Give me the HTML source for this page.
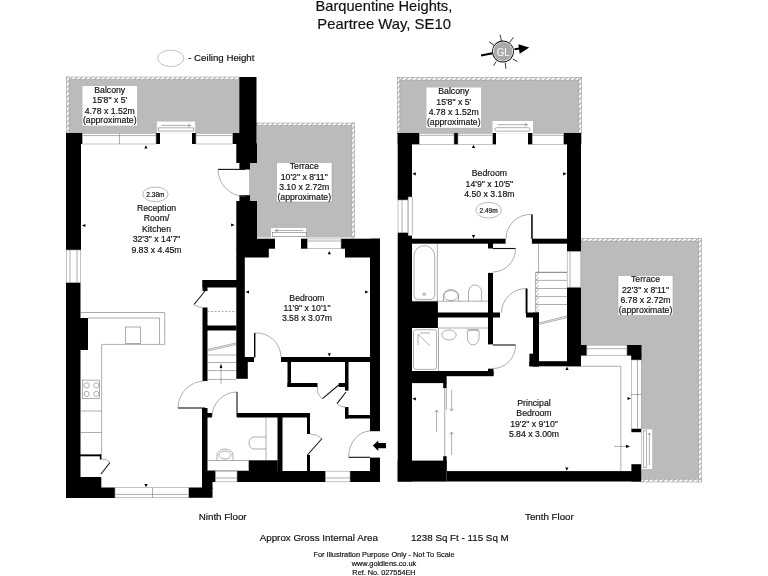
<!DOCTYPE html>
<html><head><meta charset="utf-8"><style>
html,body{margin:0;padding:0;background:#fff;width:768px;height:576px;overflow:hidden;}
svg{display:block;filter:grayscale(1);}
text{font-family:"Liberation Sans",sans-serif;fill:#111;stroke:#111;stroke-width:0.18px;}
.lb{font-size:8.7px;text-anchor:middle;}
.w{fill:#fff;stroke:#999;stroke-width:0.6;}
.ln{stroke:#777;stroke-width:0.6;fill:none;}
.dk{stroke:#111;stroke-width:1.1;fill:none;}
.g{fill:#bbb;}
.h{fill:url(#hp);stroke:#999;stroke-width:0.5;}
</style></head><body>
<svg width="768" height="576" viewBox="0 0 768 576">
<defs>
<pattern id="hp" width="3.5" height="3.5" patternUnits="userSpaceOnUse" patternTransform="rotate(45)">
<rect width="3.5" height="3.5" fill="#fff"/><rect width="1.1" height="3.5" fill="#aaa"/>
</pattern>
</defs>

<!-- ============ TITLE / LEGEND ============ -->
<text x="383.9" y="11" font-size="14.6" text-anchor="middle" textLength="136.7" lengthAdjust="spacingAndGlyphs">Barquentine Heights,</text>
<text x="384.1" y="29.1" font-size="14.6" text-anchor="middle" textLength="133.6" lengthAdjust="spacingAndGlyphs">Peartree Way, SE10</text>
<ellipse cx="170.7" cy="58.3" rx="13.1" ry="8.2" fill="none" stroke="#999" stroke-width="0.6"/>
<text x="188.2" y="61.2" font-size="9.7">- Ceiling Height</text>

<!-- compass -->
<g>
<path d="M481 55.4 L492.5 53.3" stroke="#000" stroke-width="2" fill="none"/>
<path d="M514.5 49.3 L521 48.3" stroke="#000" stroke-width="2" fill="none"/>
<path d="M518.3 44.2 L529.2 47.4 L519.7 53.7 Z" fill="#000"/>
<g stroke="#333" stroke-width="1">
<path d="M500 34.7 L501.5 41"/><path d="M513.5 37.3 L509.5 42.5"/><path d="M489.1 41.7 L494 45.3"/>
<path d="M493.5 65.7 L496.3 61.5"/><path d="M505.9 68.7 L505.2 62.5"/><path d="M517.5 61.7 L513 59"/>
</g>
<circle cx="503" cy="51.5" r="10.9" fill="#000"/>
<circle cx="503" cy="51.5" r="10.1" fill="#fff"/>
<circle cx="503" cy="51.5" r="9.4" fill="#a9a9a9"/>
<text x="503.2" y="55.5" font-size="11" textLength="13" lengthAdjust="spacingAndGlyphs" text-anchor="middle" style="fill:#fff;stroke:none">GL</text>
</g>

<!-- ============ LEFT PLAN (NINTH FLOOR) ============ -->
<!-- balcony -->
<rect class="g" x="66.5" y="77" width="172.7" height="56"/>
<rect class="h" x="66.5" y="77" width="172.7" height="2.6"/>
<rect class="h" x="66.5" y="77" width="2.6" height="56"/>
<rect x="82.5" y="86" width="54.5" height="39.6" fill="#fff"/>
<text class="lb" x="109.75" y="93.1">Balcony</text>
<text class="lb" x="109.75" y="103.3">15'8" x 5'</text>
<text class="lb" x="109.75" y="113.6">4.78 x 1.52m</text>
<text class="lb" x="109.75" y="123.3">(approximate)</text>
<!-- sliding door box -->
<rect x="157" y="121.6" width="38" height="11.5" fill="#fff" stroke="#ddd" stroke-width="0.5"/>
<path class="ln" d="M161.3 125.4 H190.6 M188 124 L190.6 125.4 L188 126.8"/>
<rect class="ln" x="158.2" y="127.9" width="35.5" height="3.1"/>

<!-- terrace -->
<rect class="g" x="256.5" y="123" width="98" height="114.5"/>
<rect class="g" x="249" y="163" width="10" height="38"/>
<rect class="h" x="256.5" y="123" width="98" height="2.6"/>
<rect class="h" x="351.9" y="123" width="2.6" height="114.5"/>
<rect x="276.5" y="162.5" width="55.5" height="39.5" fill="#fff" stroke="#999" stroke-width="0.5"/>
<text class="lb" x="304.25" y="169.3">Terrace</text>
<text class="lb" x="304.25" y="179.5">10'2" x 8'11"</text>
<text class="lb" x="304.25" y="189.8">3.10 x 2.72m</text>
<text class="lb" x="304.25" y="199.6">(approximate)</text>
<rect x="271" y="228" width="35" height="10" fill="#fff"/>
<path class="ln" d="M303 230.5 H275 M278 229 L275 230.5 L278 232"/>
<rect class="ln" x="272.6" y="232.4" width="34" height="3.9"/>

<!-- walls -->
<g fill="#000">
<rect x="66" y="133" width="15" height="117"/>
<rect x="66" y="133" width="16.5" height="11"/>
<rect x="66" y="282.5" width="14.5" height="215.5"/>
<rect x="80" y="318" width="8" height="32"/>
<rect x="156" y="133" width="4" height="11"/>
<rect x="192" y="133" width="4" height="11"/>
<rect x="232.5" y="133" width="24" height="11"/>
<rect x="239.3" y="77" width="17.2" height="56.5"/>
<rect x="236.3" y="143.5" width="20.7" height="19.5"/>
<rect x="239.4" y="162.5" width="10.6" height="7"/>
<rect x="239.4" y="195.2" width="10.6" height="6.3"/>
<rect x="236.3" y="201" width="20.7" height="38"/>
<!-- bedroom -->
<rect x="236.3" y="238.7" width="38.7" height="10"/>
<rect x="236.3" y="248" width="32.5" height="9.5"/>
<rect x="301" y="238.7" width="6.5" height="10"/>
<rect x="341" y="238.7" width="39" height="10"/>
<rect x="345" y="248" width="35" height="9.5"/>
<rect x="370" y="238.7" width="10" height="192.5"/>
<rect x="370" y="457.6" width="10" height="24.4"/>
<rect x="281" y="357" width="99" height="5"/>
<rect x="244" y="357" width="10" height="5"/>
<rect x="236.3" y="257" width="8.5" height="105"/>
<rect x="236.3" y="361.5" width="11.5" height="17.3"/>
<rect x="254" y="333" width="1.4" height="24.5"/>
<!-- cupboard/stair -->
<rect x="202.5" y="280" width="34.5" height="7.5"/>
<rect x="202.5" y="280" width="5" height="11"/>
<rect x="202.5" y="307.5" width="5" height="73.5"/>
<rect x="207" y="325.5" width="29.5" height="5"/>
<!-- right cupboards -->
<rect x="287.5" y="362" width="3.5" height="25"/>
<rect x="287.5" y="383" width="30" height="4"/>
<rect x="338.7" y="383" width="6.5" height="4"/>
<rect x="345" y="362" width="3.5" height="28.6"/>
<rect x="345" y="407" width="3.5" height="11.5"/>
<rect x="345" y="415" width="25" height="3.5"/>
<!-- hall / wc -->
<rect x="237" y="413" width="73" height="4.5"/>
<rect x="307" y="413" width="3" height="21"/>
<rect x="307" y="455" width="3" height="16"/>
<rect x="277.5" y="413" width="5" height="58"/>
<rect x="202" y="408" width="5.5" height="80"/>
<rect x="207" y="413" width="5" height="4.5"/>
<rect x="248.7" y="460.3" width="29" height="11"/>
<rect x="202" y="470.6" width="13.6" height="11.4"/>
<rect x="237" y="471" width="88.6" height="11"/>
<rect x="350" y="471" width="30" height="11"/>
<rect x="188.7" y="487.5" width="23.8" height="10.3"/>
<rect x="202" y="481" width="10.5" height="8"/>
<!-- kitchen bottom left -->
<rect x="80" y="477" width="21.3" height="21"/>
<rect x="101" y="487.5" width="14" height="10.5"/>
<rect x="80" y="454.4" width="21" height="1.9"/>
<rect x="99.8" y="454.4" width="1.7" height="5"/>
</g>

<!-- windows left plan -->
<g>
<rect class="w" x="82.5" y="133.3" width="73.5" height="10.7"/>
<path class="ln" d="M82.5 135.6 H156 M119.4 133.3 V144"/>
<rect class="w" x="196" y="133.3" width="36.5" height="10.7"/>
<path class="ln" d="M196 135.6 H232.5"/>
<rect class="w" x="66.3" y="250" width="14.4" height="32.5"/>
<path class="ln" d="M70 250 V282.5 M77 250 V282.5"/>
<rect class="w" x="307.5" y="238.9" width="33.5" height="9.8"/>
<path class="ln" d="M307.5 241 H341"/>
<rect class="w" x="115" y="487.7" width="73.7" height="10"/>
<path class="ln" d="M115 494.4 H188.7 M152.5 487.7 V497.7"/>
<rect class="w" x="215.6" y="471.2" width="21.4" height="10.6"/>
<path class="ln" d="M215.6 478 H237"/>
<rect class="w" x="325.6" y="471.2" width="24.4" height="10.6"/>
<path class="ln" d="M325.6 478 H350"/>
</g>

<!-- doors left plan -->
<g>
<path class="dk" d="M218 169.4 H245"/><path class="ln" d="M218 169.4 A27 27 0 0 0 245 196.4"/>
<path class="ln" d="M255 333 A24.5 24.5 0 0 1 281 357"/>
<path class="dk" d="M194 304.5 L205 291"/><path class="ln" d="M194 304.5 A13 13 0 0 0 202.5 307.5"/>
<path class="dk" d="M322.5 398.7 L338.7 385"/><path class="ln" d="M317.5 387 A12 12 0 0 0 322.5 398.7"/>
<path class="dk" d="M337 403.7 L346 392"/><path class="ln" d="M337 403.7 A11 11 0 0 0 345 407"/>
<path class="dk" d="M307.5 455 L322 438.5"/><path class="ln" d="M310 434 A18 18 0 0 1 322 438.5"/>
<path class="dk" d="M237 392 V417"/><path class="ln" d="M237 392 A25 25 0 0 0 212 417"/>
<path class="dk" d="M348.6 457.3 H370"/><path class="ln" d="M348.6 457.3 A22 26 0 0 1 370 431"/>
<path class="dk" d="M178 408 H205"/><path class="ln" d="M178 408 A27 27 0 0 1 205 381"/>
<path class="dk" d="M101 474 L110 462.5"/><path class="ln" d="M101.5 459.4 A9 9 0 0 1 110 462.5"/>
</g>

<!-- kitchen fittings -->
<g class="ln">
<path d="M80.5 312.5 H164.7 V344.4 H101.6 V454.4"/>
<path d="M88 318 H159.5 V344.4"/>
<rect x="125.4" y="327" width="15.3" height="16.5"/>
<rect x="82.6" y="380.1" width="17.1" height="18.5"/>
<circle cx="86.6" cy="385.4" r="2.6"/><circle cx="96.3" cy="385.4" r="2.6"/>
<circle cx="86.6" cy="393.9" r="2.6"/><circle cx="96.3" cy="393.9" r="2.6"/>
<path d="M80.5 411 H101.6 M80.5 432.5 H101.6"/>
<path d="M207.5 311.5 H236" stroke-dasharray="2 1.5"/>
<!-- stairs -->
<path d="M207.5 355 H236 M207.5 362.5 H236 M207.5 370.6 H236 M207.5 379.4 H236"/>
<path d="M207.5 349.5 L236 343 M207.5 351 L236 344.5"/>
<path d="M221 384 V366"/>
<!-- WC -->
<path d="M207.5 460.5 H248.7 M207.5 470.6 H248.7"/>
<path d="M266 417.5 V460.3"/>
<path d="M266 437 H254 A5 6 0 0 0 254 449 H266"/>
<path d="M217 460.5 V455 A8 6 0 0 1 233 455 V460.5"/>
<ellipse cx="225" cy="455" rx="6" ry="4"/>
</g>

<!-- ceiling heights / labels left -->
<ellipse cx="155.4" cy="194.3" rx="12.7" ry="7.3" fill="#fff" stroke="#888" stroke-width="0.6"/>
<text x="155.4" y="196.8" font-size="6.5" text-anchor="middle">2.38m</text>
<text class="lb" x="156.5" y="210.6">Reception</text>
<text class="lb" x="156.5" y="221.3">Room/</text>
<text class="lb" x="156.5" y="231.9">Kitchen</text>
<text class="lb" x="156.5" y="241.8">32'3" x 14'7"</text>
<text class="lb" x="156.5" y="252.7">9.83 x 4.45m</text>
<text class="lb" x="307" y="300.5">Bedroom</text>
<text class="lb" x="307" y="310.8">11'9" x 10'1"</text>
<text class="lb" x="307" y="321.1">3.58 x 3.07m</text>

<!-- ============ RIGHT PLAN (TENTH FLOOR) ============ -->
<rect class="g" x="397.3" y="77.5" width="184.2" height="55.7"/>
<rect class="h" x="397.3" y="77.5" width="184.2" height="2.6"/>
<rect class="h" x="397.3" y="77.5" width="2.6" height="55.7"/>
<rect class="h" x="578.9" y="77.5" width="2.6" height="55.7"/>
<rect x="426.5" y="87.5" width="54.5" height="40.3" fill="#fff"/>
<text class="lb" x="453.75" y="94.4">Balcony</text>
<text class="lb" x="453.75" y="104.6">15'8" x 5'</text>
<text class="lb" x="453.75" y="114.9">4.78 x 1.52m</text>
<text class="lb" x="453.75" y="124.6">(approximate)</text>
<rect x="492.5" y="121" width="40.5" height="12.2" fill="#fff"/>
<path class="ln" d="M497.5 124.7 H527.5 M524.5 123.2 L527.5 124.7 L524.5 126.2"/>
<rect class="ln" x="495" y="127.7" width="35" height="3.4" rx="1.5"/>

<!-- terrace right -->
<path class="g" d="M581 238.5 H701.3 V482 H641 V345 H581 Z"/>
<rect class="h" x="581" y="238.5" width="120.3" height="2.6"/>
<rect class="h" x="698.7" y="238.5" width="2.6" height="243.5"/>
<rect class="h" x="641" y="479.2" width="60.3" height="2.8"/>
<rect x="618" y="275.5" width="55" height="40" fill="#fff" stroke="#999" stroke-width="0.5"/>
<text class="lb" x="645.5" y="282.3">Terrace</text>
<text class="lb" x="645.5" y="292.5">22'3" x 8'11"</text>
<text class="lb" x="645.5" y="302.8">6.78 x 2.72m</text>
<text class="lb" x="645.5" y="312.6">(approximate)</text>
<rect x="641.8" y="429.4" width="10.4" height="39.6" fill="#fff"/>
<rect class="ln" x="643.6" y="430.8" width="3.1" height="36.8"/>
<path class="ln" d="M649.4 465 V433 M648 435 L649.4 433 L650.8 435"/>

<g fill="#000">
<rect x="397.7" y="133" width="21.7" height="11.4"/>
<rect x="454" y="133" width="4" height="11.4"/>
<rect x="492.5" y="133" width="3.5" height="11.4"/>
<rect x="528" y="133" width="4.3" height="11.4"/>
<rect x="563.5" y="133" width="17.8" height="11.4"/>
<rect x="567" y="143" width="14" height="108.6"/>
<rect x="567" y="287.2" width="14" height="79"/>
<rect x="397.7" y="133" width="14.3" height="64"/>
<rect x="397.7" y="196" width="10.5" height="4.2"/>
<rect x="397.7" y="232.5" width="14.3" height="249"/>
<rect x="412" y="238.7" width="93.6" height="5"/>
<rect x="531.9" y="238.7" width="35.5" height="5"/>
<rect x="488" y="243" width="5" height="5.5"/>
<rect x="488" y="272.9" width="5" height="71.5"/>
<rect x="412" y="301.2" width="25.9" height="26.8"/>
<rect x="437" y="312.5" width="63" height="5"/>
<rect x="412" y="371" width="81.5" height="5.2"/>
<rect x="412" y="371" width="34.6" height="12.1"/>
<rect x="443.2" y="382" width="3.4" height="6.1"/>
<rect x="488" y="368.7" width="5.5" height="7"/>
<rect x="525.6" y="288.5" width="1.9" height="25"/>
<rect x="526" y="312.5" width="12.7" height="5"/>
<rect x="533" y="312.5" width="6" height="54"/>
<rect x="529.4" y="353.7" width="9.3" height="12.6"/>
<rect x="529.4" y="361.2" width="51.4" height="5.1"/>
<rect x="580" y="345" width="6.9" height="10.6"/>
<rect x="626.9" y="345" width="14.6" height="10.6"/>
<rect x="631.2" y="355" width="10.3" height="5"/>
<rect x="631.4" y="428.7" width="9.7" height="3.5"/>
<rect x="631.4" y="464.2" width="9.7" height="17.3"/>
<rect x="446.6" y="471.1" width="194.5" height="10.4"/>
<rect x="397.7" y="460.6" width="48.9" height="21"/>
<rect x="443.2" y="456.2" width="3.4" height="15"/>
<rect x="531.2" y="214.4" width="1.5" height="24.5"/>
</g>

<!-- windows right -->
<g>
<rect class="w" x="419.4" y="133.3" width="34.6" height="11"/>
<path class="ln" d="M419.4 135.3 H454"/>
<rect class="w" x="458" y="133.3" width="34.5" height="11"/>
<path class="ln" d="M458 135.3 H492.5"/>
<rect class="w" x="532.3" y="133.3" width="31.2" height="11"/>
<path class="ln" d="M532.3 135.3 H563.5"/>
<rect class="w" x="398" y="200" width="14" height="32.5"/>
<path class="ln" d="M402 200 V232.5 M408 200 V232.5"/>
<rect class="w" x="408.2" y="197" width="4" height="38.6"/>
<rect class="w" x="567.2" y="251.6" width="13.6" height="35.6"/>
<path class="ln" d="M570 251.6 V287.2"/>
<rect class="w" x="586.9" y="345.2" width="40" height="10.4"/>
<path class="ln" d="M586.9 348.7 H626.9"/>
<rect class="w" x="631.3" y="360" width="10" height="68.7"/>
<path class="ln" d="M637.5 360 V428.7 M631.3 394.5 H641.3"/>
</g>

<!-- doors right -->
<g>
<path class="ln" d="M531.5 214.4 A24.5 24.5 0 0 0 506 238.8"/>
<path class="dk" d="M493 248.5 H515.6"/><path class="ln" d="M515.6 248.5 A22.6 23.5 0 0 1 493 272"/>
<path class="ln" d="M526 288.5 A24.5 24.5 0 0 0 501.5 313"/>
<path class="dk" d="M493 345 H515.6"/><path class="ln" d="M515.6 345 A22.6 23.5 0 0 1 493 368.5"/>
</g>

<!-- fittings right -->
<g class="ln">
<path d="M437.3 244 V301.2 M412 301.2 H488"/>
<path d="M414 256 A10.35 10.35 0 0 1 434.7 256 V295.4 Q434.7 299.4 430.7 299.4 H418 Q414 299.4 414 295.4 Z"/>
<path d="M424.3 292.5 L426 295 H422.6 Z"/>
<ellipse cx="451" cy="295.6" rx="7.2" ry="5"/>
<path d="M443.5 301.2 V296 A7.5 6.5 0 0 1 458.5 296 V301.2"/>
<path d="M468.5 301.2 V292 A6.5 7 0 0 1 481.6 292 V301.2"/>
<path d="M438 328 H488"/>
<rect x="413.5" y="329.7" width="23.1" height="39.7" rx="2.5"/>
<path d="M418 334 L430 346 M418 334 V345 M420 333 H430"/>
<path d="M438.5 328 V371"/>
<ellipse cx="449" cy="335" rx="7.2" ry="5"/>
<path d="M467.5 329.6 H479"/>
<path d="M467.3 331 V337.5 A5.9 7.4 0 0 0 479.1 337.5 V331 Q473.2 329.2 467.3 331 Z"/>
<path d="M538.5 243.7 V272.3"/>
<path d="M535.6 272.3 H567" stroke="#555" stroke-width="0.8"/>
<path d="M535.6 280.4 H567 M535.6 288.5 H567 M535.6 296.6 H567 M535.6 304.5 H567 M535.6 312.5 H533.7"/>
<path d="M535.6 272.3 V312.5"/>
<path d="M535.9 276.4 L538.6 273.2 M535.9 280.4 L538.6 277.2 M535.9 284.5 L538.6 281.3 M535.9 288.5 L538.6 285.3 M535.9 292.6 L538.6 289.4 M535.9 296.6 L538.6 293.4 M535.9 300.7 L538.6 297.5 M535.9 304.8 L538.6 301.6 M535.9 308.8 L538.6 305.6 M535.9 312.8 L538.6 309.6" stroke="#555" stroke-width="0.5"/>
<path d="M538.7 323 L567 316 M538.7 324.5 L567 317.5"/>
<path d="M580.6 366.3 H620.9 V471"/>
<path d="M444.7 388 V456.2 M446.3 388 V410"/>
<path d="M451.6 390 V411 M449.8 408.5 L451.6 411 L453.4 408.5"/>
<path d="M436.6 432 V410 M434.8 412.5 L436.6 410 L438.4 412.5"/>
<path d="M451.6 455 V432 M449.8 434.5 L451.6 432 L453.4 434.5"/>
<path d="M614 446.4 H629"/>
</g>

<ellipse cx="488.6" cy="210.2" rx="12.8" ry="7.8" fill="#fff" stroke="#888" stroke-width="0.6"/>
<text x="488.6" y="212.6" font-size="6.5" text-anchor="middle">2.49m</text>
<text class="lb" x="489.4" y="176.3">Bedroom</text>
<text class="lb" x="489.4" y="186.6">14'9" x 10'5"</text>
<text class="lb" x="489.4" y="196.9">4.50 x 3.18m</text>
<text class="lb" x="534" y="405.8">Principal</text>
<text class="lb" x="534" y="416.2">Bedroom</text>
<text class="lb" x="534" y="426.6">19'2" x 9'10"</text>
<text class="lb" x="534" y="437.3">5.84 x 3.00m</text>


<!-- markers -->
<g fill="#000">
<path d="M145.9 145.3 L147.5 148.6 L144.3 148.6 Z"/>
<path d="M81.9 225.5 L85.4 223.9 L85.4 227.1 Z"/>
<path d="M234.6 225 L231.1 223.4 L231.1 226.6 Z"/>
<path d="M146 487.2 L147.6 483.9 L144.4 483.9 Z"/>
<path d="M329.3 251 L330.9 254.3 L327.7 254.3 Z"/>
<path d="M245.5 292 L249 290.4 L249 293.6 Z"/>
<path d="M368.6 292 L365.1 290.4 L365.1 293.6 Z"/>
<path d="M329.3 356.6 L330.9 353.3 L327.7 353.3 Z"/>
<path d="M473.5 144.8 L475.1 148.1 L471.9 148.1 Z"/>
<path d="M412.3 173.8 L415.8 172.2 L415.8 175.4 Z"/>
<path d="M566.6 173.8 L563.1 172.2 L563.1 175.4 Z"/>
<path d="M473.5 238.2 L475.1 234.9 L471.9 234.9 Z"/>
<path d="M567 366.8 L568.6 370.1 L565.4 370.1 Z"/>
<path d="M412.3 398.8 L415.8 397.2 L415.8 400.4 Z"/>
<path d="M631 398.5 L627.5 396.9 L627.5 400.1 Z"/>
<path d="M566.8 470.8 L568.4 467.5 L565.2 467.5 Z"/>
<path d="M630 446.4 L626 444.8 L626 448 Z"/>
<!-- entrance arrow -->
<path d="M372.8 445.6 L378.3 440.5 L378.3 443 L386 443 L386 448.2 L378.3 448.2 L378.3 451 Z"/>
<!-- stair arrowhead -->
<path d="M221 363.5 L222.4 368 L219.6 368 Z"/>
</g>

<!-- ============ FOOTER ============ -->
<text x="198.7" y="519.6" font-size="9.8">Ninth Floor</text>
<text x="525" y="519.8" font-size="9.75">Tenth Floor</text>
<text x="259.7" y="540.9" font-size="9.8">Approx Gross Internal Area</text>
<text x="410.9" y="541.1" font-size="9.8">1238 Sq Ft - 115 Sq M</text>
<text x="384" y="557.2" font-size="7.35" text-anchor="middle">For Illustration Purpose Only - Not To Scale</text>
<text x="384" y="565.5" font-size="7.35" text-anchor="middle">www.goldlens.co.uk</text>
<text x="384" y="574.6" font-size="7.3" text-anchor="middle">Ref. No. 027554EH</text>
</svg>
</body></html>
